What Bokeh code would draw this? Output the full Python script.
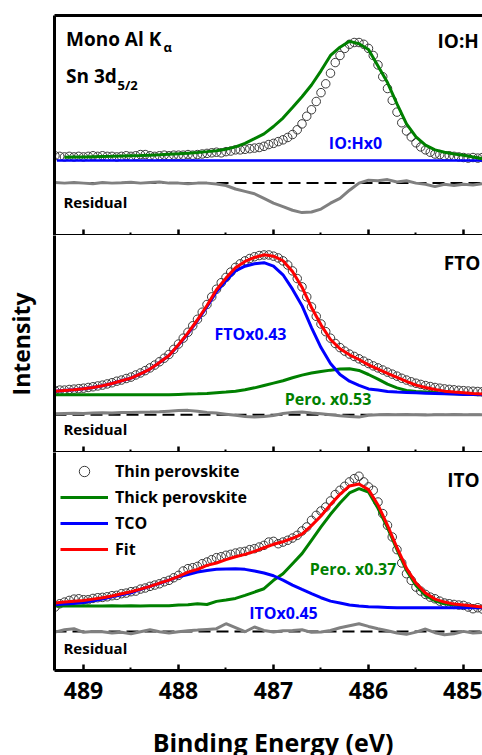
from bokeh.plotting import figure
from bokeh.models import (Range1d, LinearAxis, FixedTicker, Span, Label,
                          Legend, LegendItem, CustomJSTickFormatter)
from bokeh.layouts import column
from bokeh.embed import file_html
from bokeh.resources import INLINE

# ---------------- data ----------------
energy_fine = [round(489.30 - 0.05 * i, 2) for i in range(91)]     # eV (measured points)
energy_coarse = [round(489.3 - 0.1 * i, 1) for i in range(46)]     # eV (curves, residuals)
major_ticks = [489, 488, 487, 486, 485]
minor_ticks = [488.5, 487.5, 486.5, 485.5]

# Panel 1: IO:H
ioh_data = [0.040, 0.035, 0.030, 0.035, 0.030, 0.035, 0.030, 0.035, 0.040, 0.035,
            0.040, 0.035, 0.035, 0.030, 0.035, 0.040, 0.035, 0.040, 0.050, 0.050,
            0.040, 0.035, 0.040, 0.045, 0.040, 0.045, 0.045, 0.045, 0.050, 0.045,
            0.050, 0.055, 0.060, 0.065, 0.070, 0.065, 0.075, 0.080, 0.090, 0.090,
            0.095, 0.100, 0.105, 0.110, 0.120, 0.135, 0.145, 0.160, 0.175, 0.195,
            0.220, 0.260, 0.310, 0.375, 0.430, 0.500, 0.575, 0.650, 0.740, 0.830,
            0.890, 0.950, 0.985, 1.000, 1.000, 0.985, 0.950, 0.890, 0.810, 0.710,
            0.610, 0.510, 0.410, 0.320, 0.250, 0.200, 0.150, 0.115, 0.090, 0.070,
            0.055, 0.050, 0.040, 0.040, 0.035, 0.030, 0.025, 0.020, 0.025, 0.020,
            0.025]
ioh_thick_energy = [round(489.2 - 0.1 * i, 1) for i in range(45)]
ioh_thick = [0.028, 0.030, 0.030, 0.032, 0.034, 0.035, 0.037, 0.040, 0.042, 0.045,
             0.048, 0.052, 0.056, 0.062, 0.068, 0.075, 0.083, 0.095, 0.115, 0.145,
             0.185, 0.226, 0.288, 0.360, 0.449, 0.540, 0.640, 0.760, 0.890, 0.960,
             1.010, 0.990, 0.940, 0.800, 0.660, 0.480, 0.310, 0.200, 0.130, 0.090,
             0.070, 0.055, 0.045, 0.030, 0.015]
ioh_tco_energy = [489.28, 484.80]
ioh_tco = [0.0, 0.0]
ioh_resid = [0.005, 0.000, 0.005, 0.000, -0.005, 0.005, 0.000, 0.003, 0.008, 0.000,
             0.005, 0.010, 0.000, 0.000, -0.005, 0.000, 0.000, -0.008, -0.020, -0.050,
             -0.070, -0.090, -0.130, -0.170, -0.200, -0.230, -0.250, -0.245, -0.220, -0.170,
             -0.130, -0.060, 0.000, 0.025, 0.020, 0.030, 0.010, 0.020, 0.000, -0.010,
             -0.030, -0.010, -0.020, -0.010, -0.015, -0.005]

# Panel 2: FTO
fto_data = [0.035, 0.040, 0.040, 0.045, 0.048, 0.052, 0.056, 0.062, 0.068, 0.075,
            0.082, 0.092, 0.102, 0.115, 0.125, 0.138, 0.150, 0.168, 0.185, 0.205,
            0.228, 0.252, 0.280, 0.310, 0.342, 0.385, 0.430, 0.480, 0.530, 0.585,
            0.640, 0.700, 0.765, 0.830, 0.895, 0.950, 0.995, 1.040, 1.080, 1.110,
            1.135, 1.155, 1.170, 1.180, 1.185, 1.185, 1.175, 1.160, 1.135, 1.100,
            1.050, 0.985, 0.915, 0.830, 0.745, 0.665, 0.600, 0.535, 0.480, 0.435,
            0.400, 0.370, 0.345, 0.325, 0.305, 0.285, 0.265, 0.245, 0.228, 0.210,
            0.192, 0.175, 0.158, 0.140, 0.125, 0.110, 0.098, 0.088, 0.078, 0.070,
            0.062, 0.056, 0.050, 0.046, 0.042, 0.038, 0.035, 0.032, 0.030, 0.028,
            0.026]
fto_fit = [0.031, 0.037, 0.042, 0.051, 0.062, 0.076, 0.096, 0.119, 0.141, 0.178,
           0.218, 0.274, 0.333, 0.424, 0.525, 0.636, 0.757, 0.890, 0.989, 1.076,
           1.130, 1.164, 1.186, 1.175, 1.136, 1.045, 0.912, 0.740, 0.593, 0.469,
           0.390, 0.339, 0.299, 0.254, 0.218, 0.181, 0.147, 0.113, 0.082, 0.062,
           0.045, 0.031, 0.023, 0.017, 0.011, 0.006]
fto_tco = [0.031, 0.037, 0.042, 0.051, 0.062, 0.076, 0.096, 0.119, 0.141, 0.178,
           0.218, 0.274, 0.333, 0.421, 0.519, 0.628, 0.746, 0.873, 0.966, 1.050,
           1.090, 1.110, 1.120, 1.090, 1.017, 0.895, 0.755, 0.570, 0.400, 0.265,
           0.172, 0.115, 0.080, 0.050, 0.040, 0.028, 0.023, 0.020, 0.017, 0.014,
           0.011, 0.008, 0.006, 0.003, 0.003, 0.000]
fto_pero = [0.000, 0.000, 0.000, 0.000, 0.000, 0.000, 0.000, 0.000, 0.000, 0.000,
            0.000, 0.000, 0.000, 0.003, 0.006, 0.008, 0.011, 0.017, 0.023, 0.031,
            0.042, 0.059, 0.079, 0.099, 0.119, 0.144, 0.167, 0.184, 0.198, 0.209,
            0.218, 0.220, 0.206, 0.172, 0.133, 0.090, 0.059, 0.037, 0.028, 0.023,
            0.017, 0.011, 0.008, 0.006, 0.003, 0.000]
fto_resid = [0.008, 0.010, 0.012, 0.010, 0.015, 0.017, 0.015, 0.020, 0.020, 0.022,
             0.023, 0.025, 0.030, 0.035, 0.037, 0.030, 0.020, 0.014, 0.005, -0.005,
             -0.015, -0.020, -0.015, -0.006, 0.010, 0.020, 0.023, 0.015, 0.008, 0.000,
             -0.008, -0.015, -0.020, -0.005, 0.000, 0.002, 0.000, 0.002, 0.000, -0.002,
             0.000, 0.000, 0.002, 0.000, 0.000, 0.000]

# Panel 3: ITO
ito_data = [0.006, 0.034, 0.048, 0.062, 0.073, 0.076, 0.068, 0.068, 0.079, 0.085,
            0.088, 0.093, 0.102, 0.105, 0.119, 0.124, 0.136, 0.141, 0.158, 0.167,
            0.181, 0.192, 0.203, 0.220, 0.232, 0.254, 0.274, 0.311, 0.331, 0.339,
            0.350, 0.373, 0.387, 0.407, 0.424, 0.432, 0.444, 0.452, 0.463, 0.472,
            0.477, 0.492, 0.500, 0.514, 0.528, 0.556, 0.562, 0.542, 0.556, 0.571,
            0.590, 0.613, 0.650, 0.684, 0.740, 0.782, 0.819, 0.853, 0.904, 0.958,
            0.994, 1.028, 1.065, 1.093, 1.113, 1.065, 1.023, 0.994, 0.895, 0.797,
            0.698, 0.599, 0.492, 0.379, 0.288, 0.232, 0.175, 0.141, 0.113, 0.090,
            0.076, 0.056, 0.040, 0.034, 0.028, 0.023, 0.020, 0.006, -0.008, 0.000,
            -0.011]
ito_fit = [0.040, 0.048, 0.056, 0.062, 0.073, 0.085, 0.099, 0.119, 0.136, 0.158,
           0.181, 0.209, 0.234, 0.266, 0.302, 0.325, 0.359, 0.379, 0.407, 0.432,
           0.452, 0.477, 0.508, 0.537, 0.559, 0.588, 0.624, 0.695, 0.777, 0.873,
           0.960, 1.031, 1.048, 1.000, 0.870, 0.698, 0.508, 0.333, 0.209, 0.124,
           0.073, 0.048, 0.031, 0.023, 0.014, 0.006]
ito_tco = [0.025, 0.031, 0.037, 0.045, 0.059, 0.073, 0.093, 0.110, 0.127, 0.155,
           0.181, 0.206, 0.234, 0.263, 0.282, 0.302, 0.316, 0.325, 0.328, 0.331,
           0.325, 0.311, 0.294, 0.271, 0.234, 0.192, 0.155, 0.119, 0.085, 0.056,
           0.040, 0.023, 0.014, 0.008, 0.006, 0.003, 0.000, 0.000, 0.000, 0.000,
           0.000, 0.000, 0.000, 0.000, 0.000, 0.000]
ito_pero = [0.014, 0.017, 0.014, 0.017, 0.014, 0.014, 0.017, 0.014, 0.017, 0.014,
            0.017, 0.017, 0.017, 0.023, 0.025, 0.034, 0.028, 0.054, 0.065, 0.079,
            0.105, 0.133, 0.161, 0.232, 0.288, 0.373, 0.458, 0.571, 0.684, 0.791,
            0.887, 0.972, 1.008, 0.980, 0.842, 0.678, 0.492, 0.316, 0.189, 0.105,
            0.059, 0.034, 0.023, 0.014, 0.006, 0.000]
ito_resid = [-0.006, 0.014, 0.023, -0.008, 0.000, -0.003, -0.014, -0.008, -0.020, -0.003,
             0.014, -0.003, -0.014, -0.003, 0.006, 0.011, 0.017, 0.023, 0.065, 0.031,
             -0.003, 0.037, 0.008, -0.006, 0.006, 0.008, 0.014, -0.008, -0.006, 0.008,
             0.031, 0.048, 0.065, 0.042, 0.023, 0.006, -0.014, -0.025, -0.006, 0.020,
             -0.011, -0.028, -0.020, 0.000, -0.014, -0.008]

# ---------------- style ----------------
FONT = "Open Sans"
GREEN = "#008000"
BLUE = "#0000ff"
RED = "#ff0000"
GRAY = "#808080"
CIRCLE = "#3a3a3a"
X_START, X_END = 489.305, 484.80
FRAME_W = 428
LEFT_BORDER = 54


def base_fig(y_start, y_end, frame_h, top, bottom):
    p = figure(frame_width=FRAME_W, frame_height=frame_h,
               x_range=Range1d(X_START, X_END), y_range=Range1d(y_start, y_end),
               output_backend="svg", toolbar_location=None,
               x_axis_location=None, y_axis_location=None,
               min_border_left=LEFT_BORDER, min_border_right=0,
               min_border_top=top, min_border_bottom=bottom,
               outline_line_color=None)
    p.grid.visible = False
    return p


def make_fig(y_start, y_end, frame_h, top, bottom, labels=False, top_line=False,
             y_title=None):
    p = base_fig(y_start, y_end, frame_h, top, bottom)
    ticker = FixedTicker(ticks=major_ticks, minor_ticks=minor_ticks)
    xa = LinearAxis(ticker=ticker, axis_line_width=3, axis_line_color="black",
                    major_tick_in=6, major_tick_out=0, major_tick_line_width=2.5,
                    minor_tick_in=3, minor_tick_out=0, minor_tick_line_width=2)
    if labels:
        xa.major_label_text_font = FONT
        xa.major_label_text_font_style = "bold"
        xa.major_label_text_font_size = "23px"
        xa.major_label_text_color = "black"
        xa.major_label_standoff = 11
    else:
        xa.formatter = CustomJSTickFormatter(code="return ''")
        xa.major_label_text_font_size = "0px"
        xa.major_label_standoff = 0
    p.add_layout(xa, "below")
    ya = LinearAxis(ticker=FixedTicker(ticks=[]), axis_line_width=3, axis_line_color="black",
                    major_tick_in=0, major_tick_out=0, minor_tick_in=0, minor_tick_out=0,
                    major_label_standoff=0, major_label_text_font_size="0px")
    if y_title:
        ya.axis_label = y_title
        ya.axis_label_text_font = FONT
        ya.axis_label_text_font_style = "bold"
        ya.axis_label_text_font_size = "23px"
        ya.axis_label_text_color = "black"
        ya.axis_label_standoff = 18
    p.add_layout(ya, "left")
    if top_line:
        ta = LinearAxis(ticker=FixedTicker(ticks=[]), axis_line_width=3, axis_line_color="black",
                        major_tick_in=0, major_tick_out=0, minor_tick_in=0, minor_tick_out=0,
                        major_label_standoff=0, major_label_text_font_size="0px")
        p.add_layout(ta, "above")
    return p


def text(p, x, y, s, size, color="black", align="left", baseline="middle"):
    p.add_layout(Label(x=x, y=y, text=s, text_font=FONT, text_font_style="bold",
                       text_font_size=f"{size}px", text_color=color,
                       text_align=align, text_baseline=baseline))


def residual(p, offset, values):
    p.add_layout(Span(location=offset, dimension="width", line_color="black",
                      line_width=2, line_dash="12 6", level="underlay"))
    p.line(energy_coarse, [offset + v for v in values], line_color=GRAY, line_width=3)


# ---------------- panel 1 ----------------
p1 = make_fig(-0.636, 1.229, 220, 15, 0, top_line=True)
p1.scatter(energy_fine, ioh_data, marker="circle", size=8.5, fill_color=None,
           line_color=CIRCLE, line_width=1)
p1.line(ioh_tco_energy, ioh_tco, line_color=BLUE, line_width=2.5)
p1.line(ioh_thick_energy, ioh_thick, line_color=GREEN, line_width=3)
residual(p1, -0.192, ioh_resid)
text(p1, 489.184, 1.031, "Mono Al K", 19)
text(p1, 488.158, 0.966, "\u03b1", 13)
text(p1, 489.184, 0.720, "Sn 3d", 19)
text(p1, 488.642, 0.644, "5/2", 13)
text(p1, 485.274, 1.017, "IO:H", 19)
text(p1, 486.137, 0.147, "IO:Hx0", 16, color=BLUE, align="center")
text(p1, 489.211, -0.353, "Residual", 15)

# ---------------- panel 2 ----------------
p2 = make_fig(-0.489, 1.350, 217, 0, 0, y_title="Intensity")
p2.scatter(energy_fine, fto_data, marker="circle", size=8.5, fill_color=None,
           line_color=CIRCLE, line_width=1)
p2.line(energy_coarse, fto_pero, line_color=GREEN, line_width=3)
p2.line(energy_coarse, fto_tco, line_color=BLUE, line_width=3)
p2.line(energy_coarse, fto_fit, line_color=RED, line_width=3)
residual(p2, -0.169, fto_resid)
text(p2, 485.207, 1.117, "FTO", 19)
text(p2, 487.242, 0.517, "FTOx0.43", 16, color=BLUE, align="center")
text(p2, 486.426, -0.037, "Pero. x0.53", 16, color=GREEN, align="center")
text(p2, 489.211, -0.294, "Residual", 15)

# ---------------- panel 3 ----------------
p3 = make_fig(-0.531, 1.314, 218, 0, 42, labels=True)
r_data = p3.scatter(energy_fine, ito_data, marker="circle", size=8.5, fill_color=None,
                    line_color=CIRCLE, line_width=1)
r_pero = p3.line(energy_coarse, ito_pero, line_color=GREEN, line_width=3)
r_tco = p3.line(energy_coarse, ito_tco, line_color=BLUE, line_width=3)
r_fit = p3.line(energy_coarse, ito_fit, line_color=RED, line_width=3)
residual(p3, -0.2, ito_resid)
text(p3, 485.172, 1.079, "ITO", 19)
text(p3, 486.163, 0.331, "Pero. x0.37", 16, color=GREEN, align="center")
text(p3, 486.895, -0.044, "ITOx0.45", 16, color=BLUE, align="center")
text(p3, 489.211, -0.341, "Residual", 15)

legend = Legend(items=[LegendItem(label="Thin perovskite", renderers=[r_data]),
                       LegendItem(label="Thick perovskite", renderers=[r_pero]),
                       LegendItem(label="TCO", renderers=[r_tco]),
                       LegendItem(label="Fit", renderers=[r_fit])],
                location="top_left", margin=6, padding=0, spacing=0,
                glyph_width=48, glyph_height=26, label_height=26, label_standoff=7,
                label_text_font=FONT, label_text_font_style="bold",
                label_text_font_size="16px", label_text_color="black",
                border_line_color=None, background_fill_alpha=0)
p3.add_layout(legend)

# ---------------- x-axis title strip (bottom of the window cuts its descenders) ----------------
p4 = base_fig(0.0, 1.0, 43, 0, 0)
text(p4, 487.005, 0.325, "Binding Energy (eV)", 25, align="center", baseline="alphabetic")

layout = column(p1, p2, p3, p4, spacing=0)
open("out.html", "w").write(file_html(layout, INLINE))
